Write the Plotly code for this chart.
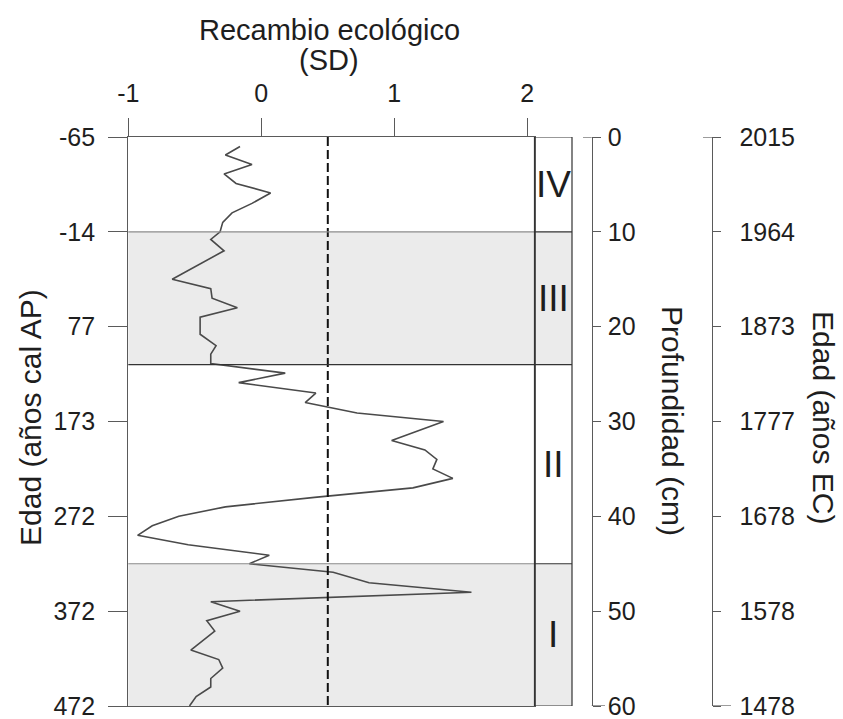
import plotly.graph_objects as go

# Ecological turnover (SD) against core depth (cm)
depth_cm = [1.0, 1.9, 2.9, 3.9, 4.9, 5.9, 7.0, 8.0, 9.0, 10.0, 10.8, 12.0, 15.0, 16.0,
            17.0, 18.0, 19.0, 20.8, 22.0, 22.9, 23.9, 24.9, 25.9, 27.0, 28.0, 29.1,
            30.0, 32.0, 33.0, 34.0, 35.0, 36.0, 37.0, 38.0, 39.0, 40.0, 41.0, 42.0,
            43.0, 44.1, 45.0, 45.9, 47.0, 48.0, 49.0, 50.0, 51.0, 52.1, 54.1, 55.1,
            56.0, 57.1, 58.0, 59.0, 60.0]
turnover_sd = [-0.16, -0.27, -0.07, -0.28, -0.19, 0.07, -0.07, -0.22, -0.29, -0.31,
               -0.38, -0.28, -0.67, -0.38, -0.37, -0.18, -0.46, -0.46, -0.34, -0.38,
               -0.38, 0.18, -0.17, 0.41, 0.33, 0.72, 1.37, 0.98, 1.23, 1.32, 1.29,
               1.44, 1.14, 0.40, -0.27, -0.62, -0.82, -0.93, -0.55, 0.06, -0.09,
               0.54, 0.81, 1.58, -0.38, -0.16, -0.41, -0.35, -0.53, -0.32, -0.29,
               -0.38, -0.38, -0.49, -0.54]

threshold_sd = 0.5

# Shared depth ticks and the two age scales labelled on them
depth_ticks = [0, 10, 20, 30, 40, 50, 60]
age_cal_bp = ["-65", "-14", "77", "173", "272", "372", "472"]
age_ce = ["2015", "1964", "1873", "1777", "1678", "1578", "1478"]
sd_ticks = [-1, 0, 1, 2]

# Zones: (name, top depth, bottom depth, shaded)
zone_names = ["IV", "III", "II", "I"]
zone_top = [0, 10, 24, 45]
zone_bottom = [10, 24, 45, 60]
zone_shaded = [False, True, False, True]

W, H = 843, 719
FONT = "Liberation Sans, Arial, sans-serif"
INK = "#1e1e1e"
AXIS = "#5a5a5a"
SHADE = "#ebebeb"


def px(x):
    return x / W


def py(y):
    return 1 - y / H


plot_left, plot_right = 128.3, 534.5
plot_top, plot_bottom = 137, 706
box_right = 572
depth_axis_x = 591.7
ce_axis_x = 712.3
px_per_unit = 133.0

fig = go.Figure()

fig.add_trace(go.Scatter(
    x=turnover_sd, y=depth_cm, mode="lines",
    line=dict(color="#4a4a4a", width=1.6),
    hoverinfo="skip", showlegend=False, cliponaxis=False,
))
fig.add_trace(go.Scatter(
    x=[threshold_sd, threshold_sd], y=[0, 60], mode="lines",
    line=dict(color="#111111", width=2, dash="9px,4px"),
    hoverinfo="skip", showlegend=False,
))
# carriers for the two extra depth-scaled axes
for ax in ["y3", "y4"]:
    fig.add_trace(go.Scatter(
        x=[0.5], y=[30], yaxis=ax, mode="markers",
        marker=dict(opacity=0), hoverinfo="skip", showlegend=False,
    ))

shapes = []
# shaded zones across the plot and the zone column
for top, bot, sh in zip(zone_top, zone_bottom, zone_shaded):
    if sh:
        shapes.append(dict(type="rect", xref="paper", yref="y",
                           x0=px(plot_left), x1=px(box_right), y0=top, y1=bot,
                           fillcolor=SHADE, line=dict(width=0), layer="below"))
# zone boundaries in the plot
boundary_colors = {10: "#8c8c8c", 24: "#333333", 45: "#8a8a8a"}
for d, c in boundary_colors.items():
    shapes.append(dict(type="line", xref="paper", yref="y",
                       x0=px(plot_left), x1=px(plot_right), y0=d, y1=d,
                       line=dict(color=c, width=1.2)))
# zone column
shapes.append(dict(type="rect", xref="paper", yref="y",
                   x0=px(plot_right), x1=px(box_right), y0=0, y1=60,
                   line=dict(color="#333333", width=1.2)))
for d in zone_top[1:]:
    shapes.append(dict(type="line", xref="paper", yref="y",
                       x0=px(plot_right), x1=px(box_right), y0=d, y1=d,
                       line=dict(color="#333333", width=1.2)))
# end caps of the right-hand scales
caps = [(583, depth_axis_x, 0), (depth_axis_x, 605, 60),
        (703, ce_axis_x, 0), (ce_axis_x, 731, 60)]
for x0, x1, d in caps:
    shapes.append(dict(type="line", xref="paper", yref="y",
                       x0=px(x0), x1=px(x1), y0=d, y1=d,
                       line=dict(color=AXIS, width=1.2)))


def label(text, x, y, size, angle=0, yref="paper"):
    return dict(text=text, xref="paper", yref=yref, x=x, y=y, textangle=angle,
                xanchor="center", yanchor="middle", showarrow=False,
                font=dict(size=size, color=INK, family=FONT))


annotations = [label(name, px((plot_right + box_right) / 2), (top + bot) / 2, 37, yref="y")
               for name, top, bot in zip(zone_names, zone_top, zone_bottom)]

annotations += [
    label("Recambio ecológico", px(329), py(30), 29),
    label("(SD)", px(329), py(60), 29),
    label("Edad (años cal AP)", px(30), py(418), 30, angle=-90),
    label("Profundidad (cm)", px(673), py(421), 30, angle=90),
    label("Edad (años EC)", px(824), py(417), 30, angle=90),
]

tickfont = dict(size=25, color=INK, family=FONT)
ydomain = [py(plot_bottom), py(plot_top)]
common = dict(showgrid=False, zeroline=False, tickfont=tickfont, automargin=False,
              ticks="outside", tickcolor=AXIS, tickwidth=1.2,
              showline=True, linecolor=AXIS, linewidth=1.2,
              ticklabeloverflow="allow")

fig.update_layout(
    width=W, height=H,
    margin=dict(l=0, r=0, t=0, b=0, autoexpand=False),
    paper_bgcolor="white", plot_bgcolor="rgba(0,0,0,0)",
    shapes=shapes, annotations=annotations,
    xaxis=dict(
        domain=[px(plot_left), px(plot_right)],
        range=[-1, -1 + (plot_right - plot_left) / px_per_unit],
        side="top", tickvals=sd_ticks, ticktext=[str(v) for v in sd_ticks],
        ticklen=18, mirror=True, ticklabelstandoff=6, **common,
    ),
    yaxis=dict(
        domain=ydomain, range=[60, 0],
        tickvals=depth_ticks, ticktext=age_cal_bp,
        ticklen=19, mirror=True, ticklabelstandoff=8, **common,
    ),
    yaxis3=dict(
        domain=ydomain, range=[60, 0], overlaying="y", anchor="free",
        position=px(depth_axis_x), side="right",
        tickvals=depth_ticks, ticktext=[str(d) for d in depth_ticks],
        ticklen=8, ticklabelstandoff=2, **common,
    ),
    yaxis4=dict(
        domain=ydomain, range=[60, 0], overlaying="y", anchor="free",
        position=px(ce_axis_x), side="right",
        tickvals=depth_ticks, ticktext=age_ce,
        ticklen=8, ticklabelstandoff=13, **common,
    ),
)

fig.write_html("out.html")
